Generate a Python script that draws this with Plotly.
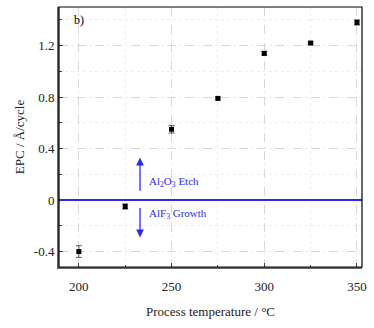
import plotly.graph_objects as go

temps = [200, 225, 250, 275, 300, 325, 350]
epc = [-0.40, -0.05, 0.55, 0.79, 1.14, 1.22, 1.38]
epc_err = [0.045, 0.02, 0.03, 0.01, 0.015, 0.01, 0.02]
x_ticks = [200, 250, 300, 350]
y_ticks = [-0.4, 0, 0.4, 0.8, 1.2]
y_labels = ["-0.4", "0", "0.4", "0.8", "1.2"]

FONT = "Liberation Serif"
BLUE = "#2b2bf0"

fig = go.Figure()
fig.add_trace(go.Scatter(
    x=temps, y=epc, mode="markers",
    marker=dict(symbol="square", size=5, color="black"),
    error_y=dict(type="data", array=epc_err, visible=True, color="#333333", thickness=0.8, width=3),
    showlegend=False,
))
fig.add_shape(type="line", xref="paper", yref="y", x0=0, x1=1, y0=0, y1=0,
              line=dict(color=BLUE, width=2))
fig.add_shape(type="rect", xref="paper", yref="paper", x0=0, x1=1, y0=0, y1=1,
              line=dict(color="black", width=1.2), layer="above")

# arrows
fig.add_annotation(x=233, y=0.33, ax=233, ay=0.06, xref="x", yref="y", axref="x", ayref="y",
                   showarrow=True, arrowhead=2, arrowsize=1.2, arrowwidth=1.3, arrowcolor=BLUE, text="")
fig.add_annotation(x=233, y=-0.29, ax=233, ay=-0.05, xref="x", yref="y", axref="x", ayref="y",
                   showarrow=True, arrowhead=2, arrowsize=1.2, arrowwidth=1.3, arrowcolor=BLUE, text="")
fig.add_annotation(x=237, y=0.14, xref="x", yref="y", text="Al<sub>2</sub>O<sub>3</sub> Etch",
                   showarrow=False, xanchor="left", font=dict(family=FONT, size=11, color=BLUE))
fig.add_annotation(x=237, y=-0.11, xref="x", yref="y", text="AlF<sub>3</sub> Growth",
                   showarrow=False, xanchor="left", font=dict(family=FONT, size=11, color=BLUE))
fig.add_annotation(x=200, y=1.40, xref="x", yref="y", text="b)", showarrow=False,
                   xanchor="center", font=dict(family=FONT, size=12, color="black"))

axis_common = dict(
    showline=True, linecolor="#666666", linewidth=2,
    ticks="inside", ticklen=4, tickcolor="#444444", tickwidth=1,
    showgrid=True, gridcolor="#d8d8d8", griddash="dash", gridwidth=1,
    zeroline=False,
    tickfont=dict(family=FONT, size=13, color="#222222"),
)

fig.update_xaxes(
    range=[189.3, 352.7], tickvals=x_ticks, ticklabelstandoff=6,
    title=dict(text="Process temperature / °C", font=dict(family=FONT, size=13, color="#222222"), standoff=14),
    minor=dict(dtick=25, tick0=200, ticks="inside", ticklen=2.5, tickcolor="#444444",
               showgrid=True, gridcolor="#eeeeee", griddash="dot"),
    **axis_common,
)
fig.update_yaxes(
    range=[-0.52, 1.5], tickvals=y_ticks, ticktext=y_labels,
    title=dict(text="EPC / Å/cycle", font=dict(family=FONT, size=13, color="#222222"), standoff=6),
    minor=dict(dtick=0.2, tick0=0, ticks="inside", ticklen=2.5, tickcolor="#444444",
               showgrid=True, gridcolor="#eeeeee", griddash="dot"),
    **axis_common,
)

fig.update_layout(
    width=374, height=328,
    margin=dict(l=59, r=9, t=7, b=61),
    plot_bgcolor="white", paper_bgcolor="white",
    font=dict(family=FONT),
)

fig.write_html("out.html")
